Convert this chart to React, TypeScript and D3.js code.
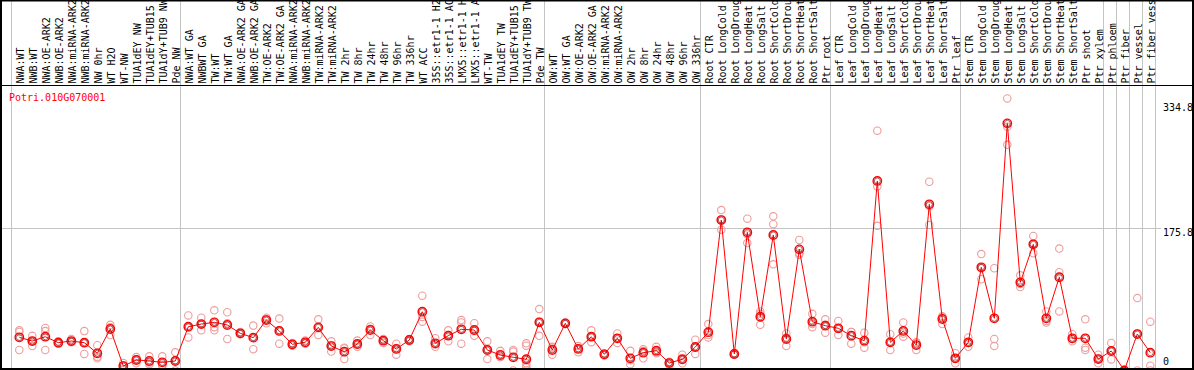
import * as d3 from "d3";
import { useMemo } from "react";

const title = "Potri.010G070001";

const sampleLabels = [
  "NWA:WT", "NWB:WT", "NWA:OE-ARK2", "NWB:OE-ARK2", "NWA:miRNA-ARK2", "NWB:miRNA-ARK2",
  "NW 0hr", "WT H2O", "WT-NW", "TUA1dEY NW", "TUA1dEY+TUB15 NW", "TUA1dY+TUB9 NW", "Pde NW",
  "NWA:WT GA", "NWBWT GA", "TW:WT", "TW:WT GA", "NWA:OE-ARK2 GA", "NWB:OE-ARK2 GA",
  "TW:OE-ARK2", "TW:OE-ARK2 GA", "NWA:miRNA-ARK2 GA", "NWB:miRNA-ARK2 GA", "TW:miRNA-ARK2",
  "TW:miRNA-ARK2 GA", "TW 2hr", "TW 8hr", "TW 24hr", "TW 48hr", "TW 96hr", "TW 336hr", "WT ACC",
  "35S::etr1-1 H2O", "35S::etr1-1 ACC", "LMX5::etr1-1 H2O", "LMX5::etr1-1 ACC", "WT-TW",
  "TUA1dEY TW", "TUA1dEY+TUB15 TW", "TUA1dY+TUB9 TW", "Pde TW",
  "OW:WT", "OW:WT GA", "OW:OE-ARK2", "OW:OE-ARK2 GA", "OW:miRNA-ARK2", "OW:miRNA-ARK2 GA",
  "OW 2hr", "OW 8hr", "OW 24hr", "OW 48hr", "OW 96hr", "OW 336hr",
  "Root CTR", "Root LongCold", "Root LongDrought", "Root LongHeat", "Root LongSalt",
  "Root ShortCold", "Root ShortDrought", "Root ShortHeat", "Root ShortSalt", "Ptr root",
  "Leaf CTR", "Leaf LongCold", "Leaf LongDrought", "Leaf LongHeat", "Leaf LongSalt",
  "Leaf ShortCold", "Leaf ShortDrought", "Leaf ShortHeat", "Leaf ShortSalt", "Ptr leaf",
  "Stem CTR", "Stem LongCold", "Stem LongDrought", "Stem LongHeat", "Stem LongSalt",
  "Stem ShortCold", "Stem ShortDrought", "Stem ShortHeat", "Stem ShortSalt", "Ptr shoot",
  "Ptr xylem", "Ptr phloem", "Ptr fiber", "Ptr vessel", "Ptr fiber vessel",
];

// mean expression per sample (the red line)
const meanValues = [
  37.1, 32.4, 37.9, 30.3, 32.4, 30.3, 16.8, 47.7, 0.6, 8.3, 7, 5.3, 7,
  50.6, 54, 56.2, 52.8, 42.2, 36.7, 59.1, 45.2, 28.2, 30.8, 49.8, 26, 18.8, 28.6, 46.4,
  32.8, 22.3, 33.7, 69.7, 29.5, 39.2, 47.3, 46.4, 21, 14.6, 11.7, 9.2, 56.2,
  21, 54.9, 22.3, 37.9, 15.5, 35.9, 10.4, 17.6, 20.1, 4.4, 9.2, 24.8,
  43.6, 186.3, 15.9, 170.7, 63.3, 167.3, 35, 149, 57, 51.9,
  48.6, 39.2, 32.8, 236, 30.8, 45.2, 27.3, 206.3, 60.4, 10.4,
  30.8, 126.2, 61.3, 309.3, 107.1, 155.4, 61.3, 113.5, 35.9, 35.9, 9.5,
  19.7, -5, 41.3, 17.6,
];

// individual replicates (pink circles)
const replicateValues = [
  [46, 44, 21], [39, 32, 26], [49, 45, 21], [32, 30, 29], [35, 32, 31], [45, 30, 16],
  [27, 12.5, 10.5], [53, 50, 40], [4.5, 1.5, -4], [12, 9, 4], [13, 5, 3], [13, 2, 1], [18, 8, -5],
  [65, 50, 37], [62, 54, 46], [71.5, 50, 46], [69, 55, 35], [44, 42, 41], [52, 37, 22],
  [62, 60, 55], [61, 46, 29], [30, 28, 26.5], [33, 30, 29], [60, 50, 40], [32, 27, 19],
  [24, 23, 9.5], [33, 28, 25], [51, 48, 40], [35, 33, 30], [29, 23, 15], [35, 34, 32],
  [90, 63, 57], [36, 28, 25], [46, 40, 32], [59, 56, 29], [55, 45, 39], [32, 22, 9.5],
  [20, 12, 12], [21, 19, -5], [29.5, 26.5, 4, -1, -5, 1], [73, 57, 39],
  [25, 23, 15], [56, 55, 54], [26, 23, 18], [46, 38, 31], [17, 15, 14], [42, 36, 30],
  [20, 8, 3], [22, 20, 10.5], [25, 18, 17], [6, 4, 2], [15, 9, 4], [34, 24, 16],
  [54, 40, 37], [199, 187, 174], [17, 16, 15], [188, 168, 157], [70, 67, 53],
  [191, 181, 130], [42, 37, 26], [161, 144, 142], [67, 54, 50], [60, 53, 43],
  [58, 48, 40], [44, 44, 29], [43, 31, 24], [300, 229, 179], [41, 31, 21],
  [56, 42, 38], [31, 30, 21], [235, 204, 180], [64, 63, 54], [17, 10, 4],
  [37, 30, 25], [143, 125, 111], [125, 35, 26], [341, 305, 282], [116, 105, 101],
  [166, 156, 144], [70, 58, 56], [150, 120, 70], [41, 35, 32], [60, 24, 21], [15, 10, 4],
  [30, 20, 9], [-4, -5, -6], [87, 42, -5], [57, 1, -5],
];

// index of the first sample of each group (last entry = end)
const groupStarts = [0, 13, 41, 53, 63, 73, 84, 85, 86, 87, 88];
const tickValues = [0, 175.8, 334.8];

const WIDTH = 1194;
const HEIGHT = 370;
const HEADER = 85; // bottom of the label strip
const FONT = "'DejaVu Sans Mono', monospace";

export default function App() {
  const xScale = useMemo(
    () =>
      d3
        .scaleBand<number>()
        .domain(d3.range(sampleLabels.length))
        .range([11, 1155])
        .padding(0),
    []
  );

  const yScale = useMemo(
    () => d3.scaleLinear().domain([0, 334.8]).range([366.5, 103.3]),
    []
  );

  const cx = (i: number) => (xScale(i) as number) + 8.3;
  const colX = (i: number) =>
    i < sampleLabels.length ? (xScale(i) as number) : xScale.range()[1];

  const linePath = d3
    .line<number>()
    .x((_, i) => cx(i))
    .y((d) => yScale(d))(meanValues);

  const midTick = yScale(tickValues[1]);

  return (
    <div style={{ position: "absolute", left: 0, top: 0 }}>
      <svg width={WIDTH} height={HEIGHT} style={{ display: "block" }}>
        <rect x={0} y={0} width={WIDTH} height={HEIGHT} fill="white" />

        {/* group separators */}
        {groupStarts.map((g) => (
          <line
            key={g}
            x1={Math.round(colX(g)) + 0.5}
            x2={Math.round(colX(g)) + 0.5}
            y1={0}
            y2={HEIGHT}
            stroke="#c4c4c4"
          />
        ))}

        {/* middle grid line */}
        <line
          x1={0}
          x2={1161}
          y1={Math.round(midTick) + 0.5}
          y2={Math.round(midTick) + 0.5}
          stroke="#c4c4c4"
        />

        {/* sample labels */}
        {sampleLabels.map((s, i) => (
          <text
            key={i}
            transform={`translate(${(xScale(i) as number) + 12.5},${HEADER - 1.5}) rotate(-90)`}
            fontFamily={FONT}
            fontSize={10}
            fill="black"
          >
            {s}
          </text>
        ))}

        <line x1={0} x2={WIDTH} y1={HEADER + 0.5} y2={HEADER + 0.5} stroke="black" />

        <text x={9} y={101} fontFamily={FONT} fontSize={10} fill="red">
          {title}
        </text>

        {/* y tick labels */}
        {tickValues.map((t) => (
          <text
            key={t}
            x={1163}
            y={Math.min(yScale(t) + 7.3, 365)}
            fontFamily={FONT}
            fontSize={10}
            fill="black"
          >
            {t}
          </text>
        ))}

        {/* replicates */}
        <g fill="none" stroke="#ee9c9c" strokeWidth={1.1}>
          {replicateValues.map((reps, i) =>
            reps.map((v, j) => (
              <circle key={`${i}-${j}`} cx={cx(i)} cy={yScale(v)} r={3.7} />
            ))
          )}
        </g>

        {/* mean line and points */}
        <path d={linePath ?? ""} fill="none" stroke="red" strokeWidth={1} />
        <g fill="none">
          {meanValues.map((v, i) => (
            <g key={i}>
              <circle cx={cx(i)} cy={yScale(v)} r={4.2} stroke="red" strokeWidth={1.4} />
              <circle cx={cx(i)} cy={yScale(v)} r={3} stroke="#700000" strokeWidth={0.6} />
            </g>
          ))}
        </g>

        {/* frame */}
        <rect
          x={1}
          y={0.5}
          width={WIDTH - 2}
          height={HEIGHT - 1.5}
          fill="none"
          stroke="black"
          strokeWidth={2}
        />
      </svg>
    </div>
  );
}
